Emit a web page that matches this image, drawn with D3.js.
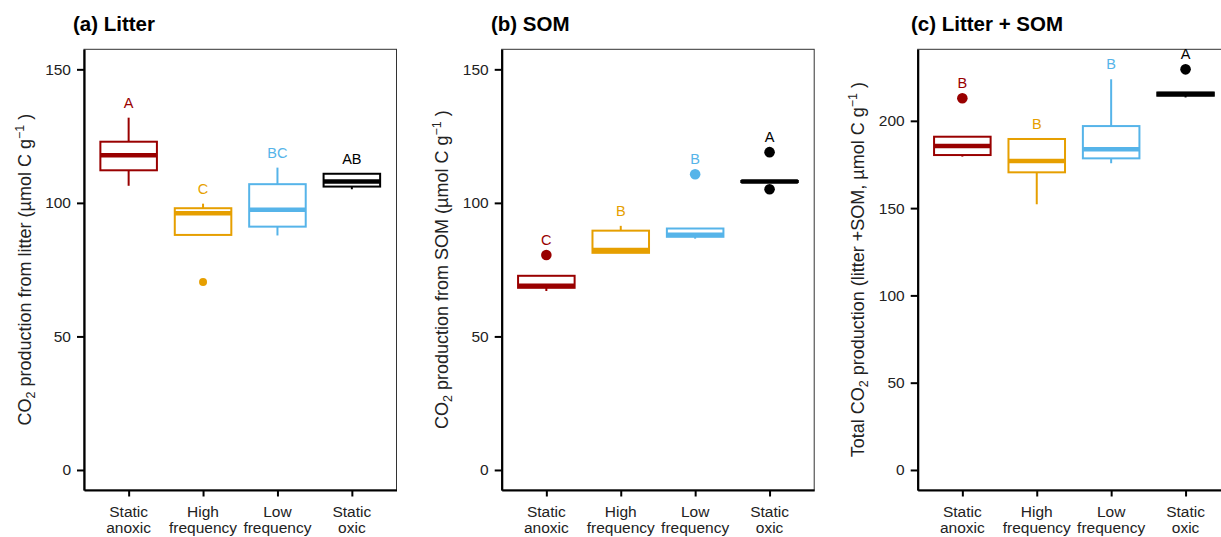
<!DOCTYPE html>
<html>
<head>
<meta charset="utf-8">
<script src="https://cdn.jsdelivr.net/npm/d3@7"></script>
<style>
body { margin: 0; background: #fff; }
svg { display: block; font-family: "Liberation Sans", Arial, sans-serif; }
</style>
</head>
<body>
<svg id="chart" width="1221" height="537"></svg>
<script>
// categories (x axis)
var treatments = ["Static anoxic", "High frequency", "Low frequency", "Static oxic"];
var tickLines = [["Static", "anoxic"], ["High", "frequency"], ["Low", "frequency"], ["Static", "oxic"]];
var treatmentColors = ["#990000", "#E69F00", "#56B4E9", "#000000"];

// (a) Litter - box stats
var litterLow  = [106.4, 88.0, 87.8, 105.1];
var litterQ1   = [112.2, 88.0, 91.1, 106.1];
var litterMed  = [117.8, 96.1, 97.4, 108.0];
var litterQ3   = [122.9, 98.0, 107.0, 110.9];
var litterHigh = [131.9, 99.7, 113.2, 110.9];
var litterOut  = [[], [70.4], [], []];
var litterLetters = ["A", "C", "BC", "AB"];

// (b) SOM
var somLow  = [67.0, 81.3, 86.6, 107.7];
var somQ1   = [68.2, 81.3, 87.3, 107.8];
var somMed  = [69.0, 82.4, 88.1, 108.0];
var somQ3   = [72.7, 89.6, 90.4, 108.2];
var somHigh = [72.7, 91.4, 90.4, 108.2];
var somOut  = [[80.5], [], [110.7], [119.0, 105.1]];
var somLetters = ["C", "B", "B", "A"];

// (c) Litter + SOM
var totLow  = [179.5, 152.2, 175.7, 213.4];
var totQ1   = [180.4, 170.5, 178.5, 214.4];
var totMed  = [185.6, 177.0, 183.7, 215.3];
var totQ3   = [190.9, 189.6, 197.0, 216.2];
var totHigh = [190.9, 189.6, 223.8, 216.2];
var totOut  = [[212.9], [], [], [229.5]];
var totLetters = ["B", "B", "B", "A"];

var ticksAB = [0, 50, 100, 150];
var ticksC = [0, 50, 100, 150, 200];

var panels = [
  {title: "(a) Litter", titleX: 73, left: 84, lim: [0, 150], ticks: ticksAB, r: 4,
   low: litterLow, q1: litterQ1, med: litterMed, q3: litterQ3, high: litterHigh, out: litterOut, letters: litterLetters,
   ylab: [["CO", 0], ["2", 1], [" production from litter (\u00b5mol C g", 0], ["\u22121", 2], [" )", 0]]},
  {title: "(b) SOM", titleX: 491, left: 501.7, lim: [0, 150], ticks: ticksAB, r: 5.3,
   low: somLow, q1: somQ1, med: somMed, q3: somQ3, high: somHigh, out: somOut, letters: somLetters,
   ylab: [["CO", 0], ["2", 1], [" production from SOM (\u00b5mol C g", 0], ["\u22121", 2], [" )", 0]]},
  {title: "(c) Litter + SOM", titleX: 911, left: 917.7, lim: [0, 229.5], ticks: ticksC, r: 5.3,
   low: totLow, q1: totQ1, med: totMed, q3: totQ3, high: totHigh, out: totOut, letters: totLetters,
   ylab: [["Total CO", 0], ["2", 1], [" production (litter +SOM, \u00b5mol C g", 0], ["\u22121", 2], [" )", 0]]}
];

var svg = d3.select("#chart");
var panelTop = 49.3, panelBottom = 490, pw = 312.5;

panels.forEach(function(p) {
  var span = p.lim[1] - p.lim[0];
  var y = d3.scaleLinear()
    .domain([p.lim[0] - 0.05 * span, p.lim[1] + 0.05 * span])
    .range([panelBottom, panelTop]);
  var x = d3.scalePoint().domain(treatments).range([p.left, p.left + pw]).padding(0.6);
  var boxW = x.step() * 0.76;

  var g = svg.append("g");

  // thin panel border (top / right)
  g.append("rect")
    .attr("x", p.left).attr("y", panelTop)
    .attr("width", pw).attr("height", panelBottom - panelTop)
    .attr("fill", "none").attr("stroke", "#333").attr("stroke-width", 1);

  // title
  svg.append("text")
    .attr("x", p.titleX).attr("y", 31)
    .attr("font-size", "20.5px").attr("font-weight", "bold").attr("fill", "#000")
    .text(p.title);

  // boxes
  treatments.forEach(function(t, i) {
    var cx = x(t), col = treatmentColors[i];
    var bg = g.append("g");
    bg.append("line").attr("x1", cx).attr("x2", cx)
      .attr("y1", y(p.high[i])).attr("y2", y(p.q3[i]))
      .attr("stroke", col).attr("stroke-width", 2);
    bg.append("line").attr("x1", cx).attr("x2", cx)
      .attr("y1", y(p.q1[i])).attr("y2", y(p.low[i]))
      .attr("stroke", col).attr("stroke-width", 2);
    bg.append("rect")
      .attr("x", cx - boxW / 2).attr("width", boxW)
      .attr("y", y(p.q3[i])).attr("height", y(p.q1[i]) - y(p.q3[i]))
      .attr("fill", "#fff").attr("stroke", col).attr("stroke-width", 2);
    bg.append("line")
      .attr("x1", cx - boxW / 2).attr("x2", cx + boxW / 2)
      .attr("y1", y(p.med[i])).attr("y2", y(p.med[i]))
      .attr("stroke", col).attr("stroke-width", 4.5);
    bg.selectAll("circle").data(p.out[i]).enter().append("circle")
      .attr("cx", cx).attr("cy", function(d) { return y(d); })
      .attr("r", p.r).attr("fill", col);

    var mx = d3.max([p.high[i]].concat(p.out[i]));
    bg.append("text")
      .attr("x", cx).attr("y", y(mx) - 10)
      .attr("text-anchor", "middle").attr("font-size", "14.5px").attr("fill", col)
      .text(p.letters[i]);
  });

  // y axis
  var ya = g.append("g").attr("transform", "translate(" + p.left + ",0)")
    .call(d3.axisLeft(y).tickValues(p.ticks).tickSize(7).tickSizeOuter(0).tickPadding(6));
  ya.select(".domain").attr("stroke", "#000").attr("stroke-width", 2.2);
  ya.selectAll(".tick line").attr("stroke", "#000").attr("stroke-width", 2);
  ya.selectAll(".tick text").attr("font-size", "15.5px").attr("fill", "#222")
    .attr("font-family", "Liberation Sans, Arial, sans-serif");

  // x axis
  var xa = g.append("g").attr("transform", "translate(0," + panelBottom + ")")
    .call(d3.axisBottom(x).tickSize(6.5).tickSizeOuter(0).tickFormat(""));
  xa.select(".domain").attr("stroke", "#000").attr("stroke-width", 2.2);
  xa.selectAll(".tick line").attr("stroke", "#000").attr("stroke-width", 2);
  treatments.forEach(function(t, i) {
    var tx = g.append("text").attr("text-anchor", "middle")
      .attr("font-size", "15.5px").attr("fill", "#222");
    tx.append("tspan").attr("x", x(t)).attr("y", 516.7).text(tickLines[i][0]);
    tx.append("tspan").attr("x", x(t)).attr("y", 533).text(tickLines[i][1]);
  });

  // y title
  var yt = svg.append("text")
    .attr("transform", "translate(" + (p.left - 53.5) + "," + ((panelTop + panelBottom) / 2) + ") rotate(-90)")
    .attr("text-anchor", "middle").attr("font-size", "18px").attr("fill", "#222");
  var shift = 0;
  p.ylab.forEach(function(part) {
    var s = part[1];
    var target = s == 1 ? 4 : (s == 2 ? -7 : 0);
    var ts = yt.append("tspan").attr("dy", target - shift).text(part[0]);
    if (s) ts.attr("font-size", "12.5px");
    shift = target;
  });
});
</script>
</body>
</html>
